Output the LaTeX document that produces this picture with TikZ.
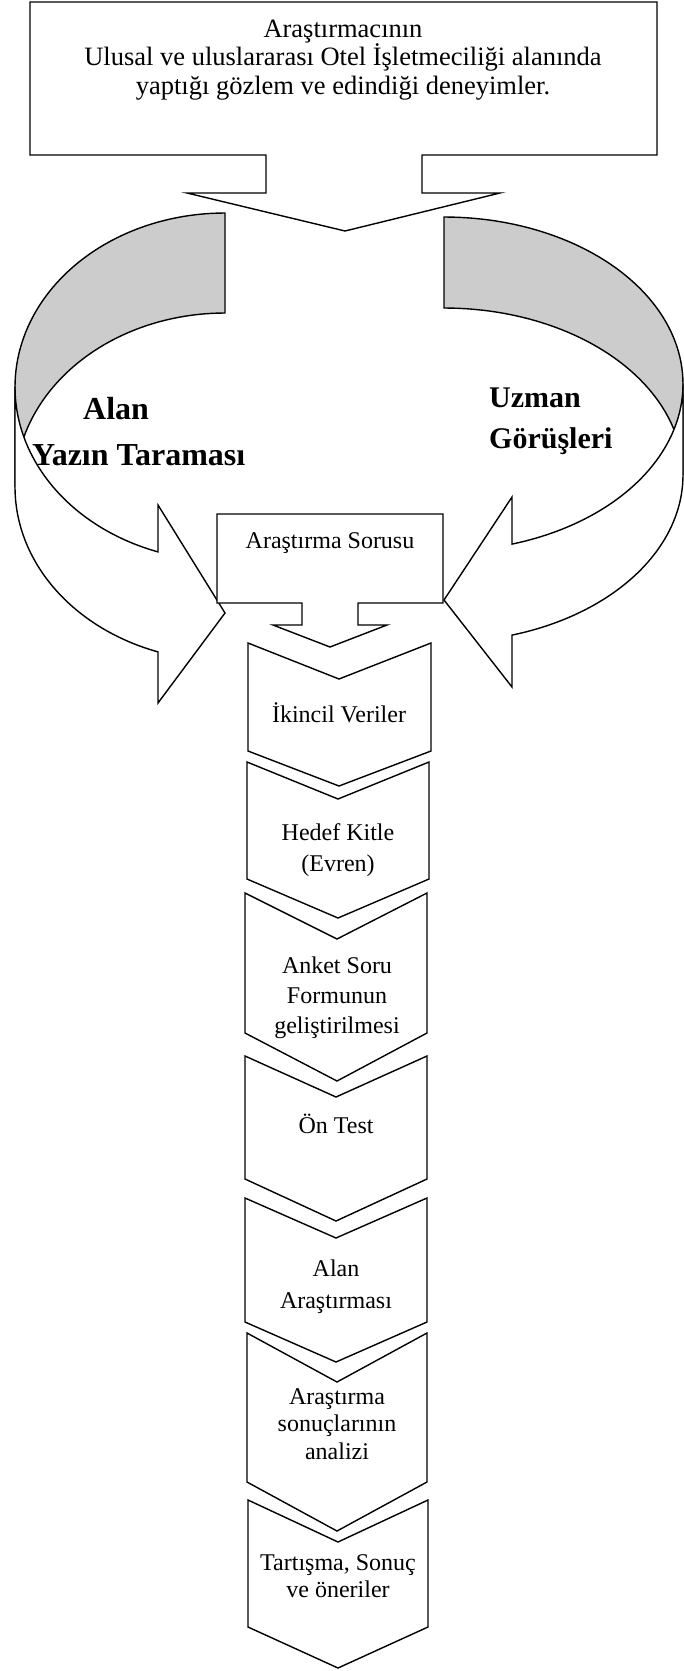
\documentclass[tikz,border=0pt]{standalone}
\usepackage{fontspec}
\setmainfont{Liberation Serif}
\definecolor{backgray}{gray}{0.8}
\newcommand\chev[7]{\path[shp] (#1,#4) -- (#3,#5) -- (#2,#4) -- (#2,#6) -- (#3,#7) -- (#1,#6) -- cycle;}
\begin{document}
\begin{tikzpicture}[x=1pt,y=-1pt,line join=miter,
  shp/.style={draw=black, fill=white, line width=1.4pt},
  back/.style={draw=black, fill=backgray, line width=1.4pt},
  txt/.style={inner sep=0pt, anchor=base, align=center, font=\fontsize{24}{30}\selectfont},
  btxt/.style={inner sep=0pt, anchor=base west, font=\fontsize{30}{36}\selectfont\bfseries}]
\useasboundingbox (0,0) rectangle (684,1671);
% left curved arrow (back, then front)
\path[back] (225,213) -- plot[domain=270:180, samples=50] ({225+210*cos(\x)},{387+174*sin(\x)})
  -- (15,487) -- plot[domain=180:270, samples=50] ({225+210*cos(\x)},{487+174*sin(\x)}) -- cycle;
\path[shp] (15,387) -- (15,487) -- plot[domain=180:108.6, samples=50] ({225+210*cos(\x)},{487+174*sin(\x)})
  -- (158,703) -- (225,613) -- (158,505)
  -- plot[domain=108.6:180, samples=50] ({225+210*cos(\x)},{387+174*sin(\x)}) -- cycle;
% right curved arrow
\path[back] (444,217) -- plot[domain=270:360, samples=50] ({444+239*cos(\x)},{384+167*sin(\x)})
  -- (683,475) -- plot[domain=0:-90, samples=50] ({444+239*cos(\x)},{475+167*sin(\x)}) -- cycle;
\path[shp] (683,384) -- (683,475) -- plot[domain=0:73.47, samples=50] ({444+239*cos(\x)},{475+167*sin(\x)})
  -- (512,687) -- (444,600) -- (512,497)
  -- plot[domain=73.47:0, samples=50] ({444+239*cos(\x)},{384+167*sin(\x)}) -- cycle;
% top callout
\path[shp] (30,2) -- (657,2) -- (657,155) -- (422,155) -- (422,193) -- (500,193) -- (345,231)
  -- (187,193) -- (266,193) -- (266,155) -- (30,155) -- cycle;
% research question callout
\path[shp] (217,514) -- (443,514) -- (443,603) -- (358,603) -- (358,625) -- (387,625) -- (330,647)
  -- (273,625) -- (302,625) -- (302,603) -- (217,603) -- cycle;
% chevrons
\chev{248}{431}{339}{643}{679}{751}{786}
\chev{247}{429}{338}{762}{799}{879}{918}
\chev{245}{427}{337}{893}{939}{1033}{1081}
\chev{245}{427}{336}{1056}{1097}{1179}{1221}
\chev{245}{427}{336}{1198}{1238}{1322}{1362}
\chev{247}{427}{337}{1333}{1382}{1482}{1531}
\chev{248}{428}{338}{1500}{1542}{1627}{1668}
% texts (base anchor = baseline of the last line)
\node[txt, font=\fontsize{26.5}{28.5}\selectfont] (top) at (343,94)
  {Araştırmacının\\Ulusal ve uluslararası Otel İşletmeciliği alanında\\yaptığı gözlem ve edindiği deneyimler.};
\node[txt] (soru) at (330,548) {Araştırma Sorusu};
\node[txt] (c1) at (339,722) {İkincil Veriler};
\node[txt, font=\fontsize{24}{31}\selectfont] (c2) at (338,871) {Hedef Kitle\\(Evren)};
\node[txt, font=\fontsize{24}{30}\selectfont] (c3) at (337,1033) {Anket Soru\\Formunun\\geliştirilmesi};
\node[txt] (c4) at (336,1133) {Ön Test};
\node[txt, font=\fontsize{24}{32}\selectfont] (c5) at (336,1308) {Alan\\Araştırması};
\node[txt, font=\fontsize{24}{27.5}\selectfont] (c6) at (337,1459) {Araştırma\\sonuçlarının\\analizi};
\node[txt, font=\fontsize{24}{26.5}\selectfont] (c7) at (338,1597) {Tartışma, Sonuç\\ve öneriler};
\node[btxt, font=\fontsize{32}{36}\selectfont\bfseries] (alan) at (83,419) {Alan};
\node[btxt, font=\fontsize{32}{36}\selectfont\bfseries] (yazin) at (32,465) {Yazın Taraması};
\node[btxt] (uzman) at (489,407) {Uzman};
\node[btxt] (gorus) at (489,448) {Görüşleri};
\end{tikzpicture}
\end{document}
